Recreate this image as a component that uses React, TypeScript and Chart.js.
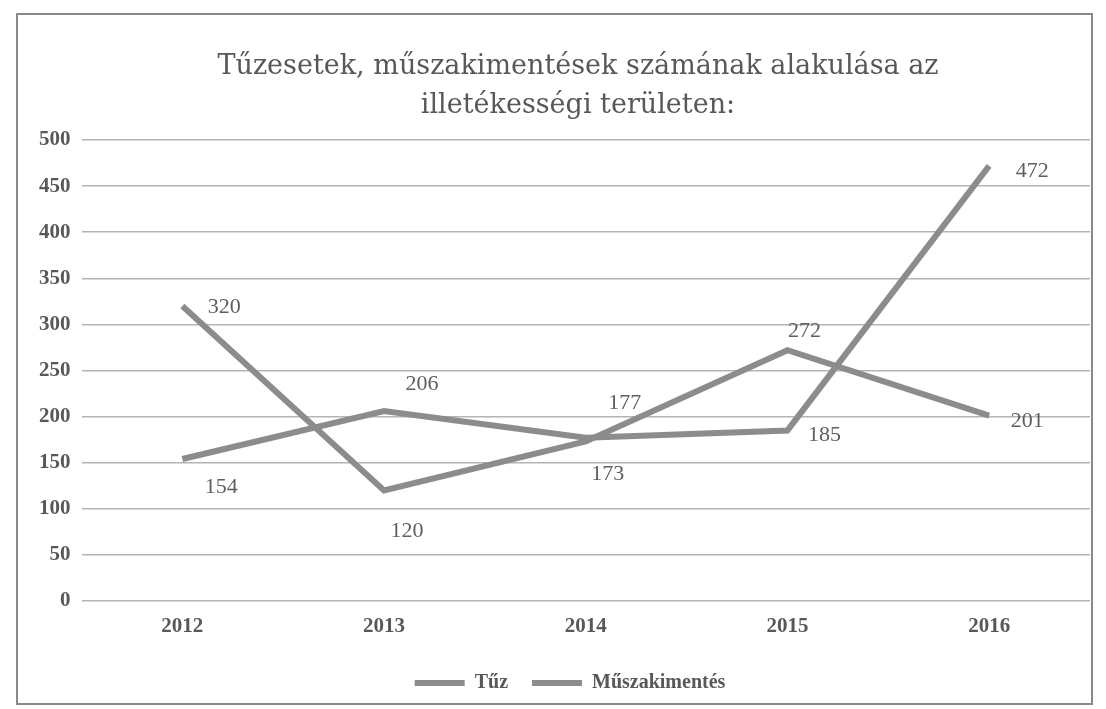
import React, { useEffect, useRef } from "react";
import { Chart, registerables } from "chart.js";

Chart.register(...registerables);

// ---- data ----
const categories = ["2012", "2013", "2014", "2015", "2016"];
const tuzValues = [320, 120, 173, 272, 201];
const muszakiValues = [154, 206, 177, 185, 472];
const seriesNames = ["Tűz", "Műszakimentés"];
const titleLines = [
  "Tűzesetek, műszakimentések számának alakulása az",
  "illetékességi területen:",
];
const yMin = 0;
const yMax = 500;
const yStep = 50;

// ---- styling (label offsets in px relative to each point) ----
const tuzLabelOffsets = [
  [42, 1],
  [23, 41],
  [22, 33],
  [17, -19],
  [38, 6],
];
const muszakiLabelOffsets = [
  [39, 28],
  [38, -27],
  [39, -35],
  [37, 5],
  [43, 5],
];

const LINE_COLOR = "#8c8c8c";
const TEXT_COLOR = "#585858";
const GRID_COLOR = "#b4b4b4";
const TITLE_SHIFT = 19;
const LEGEND_SHIFT = 11;

const pointLabelsPlugin = {
  id: "pointLabels",
  afterDatasetsDraw(chart: any, _args: any, opts: any) {
    const ctx = chart.ctx;
    ctx.save();
    ctx.font = opts.font;
    ctx.fillStyle = opts.color;
    ctx.textAlign = "center";
    ctx.textBaseline = "middle";
    chart.data.datasets.forEach((ds: any, i: number) => {
      const meta = chart.getDatasetMeta(i);
      const offs = opts.offsets[i];
      meta.data.forEach((pt: any, j: number) => {
        const o = offs[j] || [0, 0];
        ctx.fillText(String(ds.data[j]), pt.x + o[0], pt.y + o[1]);
      });
    });
    ctx.restore();
  },
};

const blockShiftPlugin = {
  id: "blockShift",
  afterLayout(chart: any) {
    const tb = chart.titleBlock;
    if (tb) {
      tb.left += TITLE_SHIFT;
      tb.right += TITLE_SHIFT;
    }
    const lg = chart.legend;
    if (lg) {
      lg.left += LEGEND_SHIFT;
      lg.right += LEGEND_SHIFT;
    }
  },
};

export default function App() {
  const canvasRef = useRef<HTMLCanvasElement | null>(null);

  useEffect(() => {
    if (!canvasRef.current) return;
    const chart = new Chart(canvasRef.current, {
      type: "line",
      data: {
        labels: categories,
        datasets: [
          {
            label: seriesNames[0],
            data: tuzValues,
            borderColor: LINE_COLOR,
            backgroundColor: LINE_COLOR,
            borderWidth: 6,
            pointRadius: 0,
            tension: 0,
            fill: false,
          },
          {
            label: seriesNames[1],
            data: muszakiValues,
            borderColor: LINE_COLOR,
            backgroundColor: LINE_COLOR,
            borderWidth: 6,
            pointRadius: 0,
            tension: 0,
            fill: false,
          },
        ],
      },
      options: {
        responsive: false,
        animation: false,
        layout: {
          padding: { left: 28, right: 16, top: 0, bottom: 6 },
        },
        scales: {
          x: {
            offset: true,
            grid: { display: false, drawTicks: false },
            border: { display: false },
            ticks: {
              padding: 13,
              color: TEXT_COLOR,
              font: { family: "'Liberation Serif', serif", size: 21, weight: "bold" },
            },
            afterFit: (scale: any) => {
              scale.height = 48;
            },
          },
          y: {
            min: yMin,
            max: yMax,
            grid: { color: GRID_COLOR, lineWidth: 1.5, drawTicks: false },
            border: { display: false },
            ticks: {
              stepSize: yStep,
              padding: 11,
              color: TEXT_COLOR,
              font: { family: "'Liberation Serif', serif", size: 21, weight: "bold" },
            },
          },
        },
        plugins: {
          title: {
            display: true,
            text: titleLines,
            color: TEXT_COLOR,
            font: { family: "'DejaVu Serif', serif", size: 27, weight: "normal", lineHeight: 39 / 27 },
            padding: { top: 47, bottom: 15 },
          },
          legend: {
            display: true,
            position: "bottom",
            labels: {
              usePointStyle: true,
              pointStyle: "line",
              pointStyleWidth: 50,
              padding: 24,
              color: TEXT_COLOR,
              font: { family: "'Liberation Serif', serif", size: 20, weight: "bold" },
            },
          },
          tooltip: { enabled: false },
          pointLabels: {
            font: "22px 'Liberation Serif', serif",
            color: "#5e5e5e",
            offsets: [tuzLabelOffsets, muszakiLabelOffsets],
          },
        } as any,
      },
      plugins: [pointLabelsPlugin, blockShiftPlugin],
    });
    return () => chart.destroy();
  }, []);

  return (
    <div style={{ position: "fixed", left: 0, top: 0, width: 1106, height: 709, background: "#ffffff" }}>
      <canvas ref={canvasRef} width={1106} height={709} style={{ display: "block" }} />
      <div
        style={{
          position: "absolute",
          left: 16,
          top: 13,
          width: 1077,
          height: 692,
          border: "2px solid #8a8a8a",
          boxSizing: "border-box",
          pointerEvents: "none",
        }}
      />
    </div>
  );
}
